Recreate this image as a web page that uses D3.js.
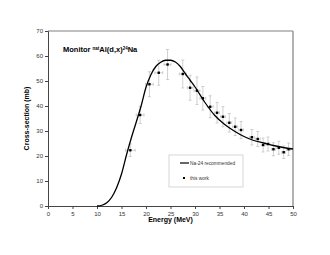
<!DOCTYPE html>
<html>
<head>
<meta charset="utf-8">
<script src="https://cdn.jsdelivr.net/npm/d3@7"></script>
<style>
  body { margin: 0; background: #fff; }
  text { font-family: "Liberation Sans", Arial, sans-serif; }
</style>
</head>
<body>
<svg id="chart" width="330" height="255"></svg>
<script>
// recommended curve (Na-24)
const curveE = [10, 11, 12, 13, 14, 15, 16, 17, 18, 19, 20, 21, 22, 23, 24, 25, 26, 27, 28, 29, 30, 32, 34, 36, 38, 40, 42, 44, 46, 48, 50];
const curveS = [0, 0.3, 1.3, 3.5, 7.3, 12.8, 20.3, 27.2, 33.5, 40, 47.5, 52.5, 55.8, 57.5, 58.3, 58.3, 57.6, 55.8, 53, 50.3, 47.6, 41.5, 36.3, 32.7, 30, 27.8, 26.2, 25.2, 24.2, 23.4, 22.8];

// this work
const ptE = [16.8, 18.8, 20.7, 22.6, 24.4, 27.5, 29.0, 30.4, 31.6, 33.1, 34.5, 35.7, 37.0, 38.2, 39.4, 41.6, 42.8, 43.9, 44.9, 46.0, 47.1, 48.1, 49.1];
const ptS = [22.3, 36.4, 48.7, 53.3, 56.6, 52.8, 47.3, 46.1, 43.1, 39.7, 37.3, 35.7, 33.3, 31.7, 30.4, 27.5, 26.8, 24.4, 24.8, 22.7, 23.3, 21.5, 22.7];
const ptErrS = [2.5, 3.4, 5, 5, 6, 5.6, 5, 5.5, 4.7, 4.4, 4.1, 4, 3.7, 3.5, 3.4, 3.1, 3, 2.8, 2.8, 2.6, 2.6, 2.5, 2.5];
const ptErrE = [1.0, 0.8, 0.8, 0.8, 0.7, 0.7, 0.6, 0.6, 0.6, 0.6, 0.5, 0.5, 0.5, 0.5, 0.5, 0.5, 0.5, 0.4, 0.4, 0.4, 0.4, 0.4, 0.4];

const xTicks = [0, 5, 10, 15, 20, 25, 30, 35, 40, 45, 50];
const yTicks = [0, 10, 20, 30, 40, 50, 60, 70];

const svg = d3.select('#chart');
const pl = 48, pr = 293, pt = 31, pb = 206;

const x = d3.scaleLinear().domain([0, 50]).range([pl, pr]);
const y = d3.scaleLinear().domain([0, 70]).range([pb, pt]);

// frame top / right
svg.append('line')
  .attr('x1', pl).attr('x2', pr).attr('y1', pt).attr('y2', pt)
  .attr('stroke', '#aaa').attr('stroke-width', 1.5);
svg.append('line')
  .attr('x1', pr).attr('x2', pr).attr('y1', pt).attr('y2', pb)
  .attr('stroke', '#999').attr('stroke-width', 1.5);

// axes
const xAxis = svg.append('g')
  .attr('transform', `translate(0,${pb})`)
  .call(d3.axisBottom(x).tickValues(xTicks).tickSize(3).tickPadding(3));
const yAxis = svg.append('g')
  .attr('transform', `translate(${pl},0)`)
  .call(d3.axisLeft(y).tickValues(yTicks).tickSize(3).tickPadding(2));

[xAxis, yAxis].forEach((g) => {
  g.select('.domain').attr('stroke', '#444');
  g.selectAll('.tick line').attr('stroke', '#444');
  g.selectAll('.tick text')
    .attr('fill', '#333')
    .style('font-size', '6px')
    .style('font-family', '"Liberation Sans", Arial, sans-serif');
});

// error bars
const pts = ptE.map((e, i) => ({ e, s: ptS[i], de: ptErrE[i], ds: ptErrS[i] }));
const err = svg.append('g').attr('stroke', '#bbb').attr('stroke-width', 0.7);
pts.forEach((d) => {
  err.append('line')
    .attr('x1', x(d.e)).attr('x2', x(d.e))
    .attr('y1', y(d.s - d.ds)).attr('y2', y(d.s + d.ds));
  err.append('line')
    .attr('x1', x(d.e - d.de)).attr('x2', x(d.e + d.de))
    .attr('y1', y(d.s)).attr('y2', y(d.s));
  [d.s - d.ds, d.s + d.ds].forEach((v) => {
    err.append('line')
      .attr('x1', x(d.e) - 1.5).attr('x2', x(d.e) + 1.5)
      .attr('y1', y(v)).attr('y2', y(v));
  });
  [d.e - d.de, d.e + d.de].forEach((v) => {
    err.append('line')
      .attr('x1', x(v)).attr('x2', x(v))
      .attr('y1', y(d.s) - 1.5).attr('y2', y(d.s) + 1.5);
  });
});

// recommended curve
const line = d3.line()
  .x((d, i) => x(curveE[i]))
  .y((d) => y(d))
  .curve(d3.curveMonotoneX);
svg.append('path')
  .datum(curveS)
  .attr('d', line)
  .attr('fill', 'none')
  .attr('stroke', '#000')
  .attr('stroke-width', 1.3);

// points
svg.selectAll('rect.pt')
  .data(pts)
  .enter()
  .append('rect')
  .attr('class', 'pt')
  .attr('x', (d) => x(d.e) - 1.2)
  .attr('y', (d) => y(d.s) - 1.2)
  .attr('width', 2.4)
  .attr('height', 2.4)
  .attr('fill', '#000');

// title
const title = svg.append('text')
  .attr('x', 63).attr('y', 52)
  .style('font-size', '7.5px')
  .style('font-weight', 'bold');
title.append('tspan').text('Monitor ');
title.append('tspan').attr('dy', -2.5).style('font-size', '4.5px').text('nat');
title.append('tspan').attr('dy', 2.5).text('Al(d,x)');
title.append('tspan').attr('dy', -2.5).style('font-size', '4.5px').text('24');
title.append('tspan').attr('dy', 2.5).text('Na');

// axis titles
svg.append('text')
  .attr('x', (pl + pr) / 2).attr('y', 222)
  .attr('text-anchor', 'middle')
  .style('font-size', '7px')
  .style('font-weight', 'bold')
  .text('Energy (MeV)');
svg.append('text')
  .attr('transform', `translate(29,${(pt + pb) / 2}) rotate(-90)`)
  .attr('text-anchor', 'middle')
  .style('font-size', '7px')
  .style('font-weight', 'bold')
  .text('Cross-section (mb)');

// legend
const lg = svg.append('g');
lg.append('rect')
  .attr('x', 169).attr('y', 155).attr('width', 74).attr('height', 32)
  .attr('fill', '#fff').attr('stroke', '#ccc').attr('stroke-width', 0.8);
lg.append('line')
  .attr('x1', 180).attr('x2', 189).attr('y1', 163).attr('y2', 163)
  .attr('stroke', '#000').attr('stroke-width', 1.2);
lg.append('text')
  .attr('x', 190).attr('y', 164.8)
  .style('font-size', '4.8px').attr('fill', '#333')
  .text('Na-24 recommended');
lg.append('rect')
  .attr('x', 183).attr('y', 177).attr('width', 2).attr('height', 2)
  .attr('fill', '#000');
lg.append('text')
  .attr('x', 190).attr('y', 179.8)
  .style('font-size', '4.8px').attr('fill', '#333')
  .text('this work');
</script>
</body>
</html>
